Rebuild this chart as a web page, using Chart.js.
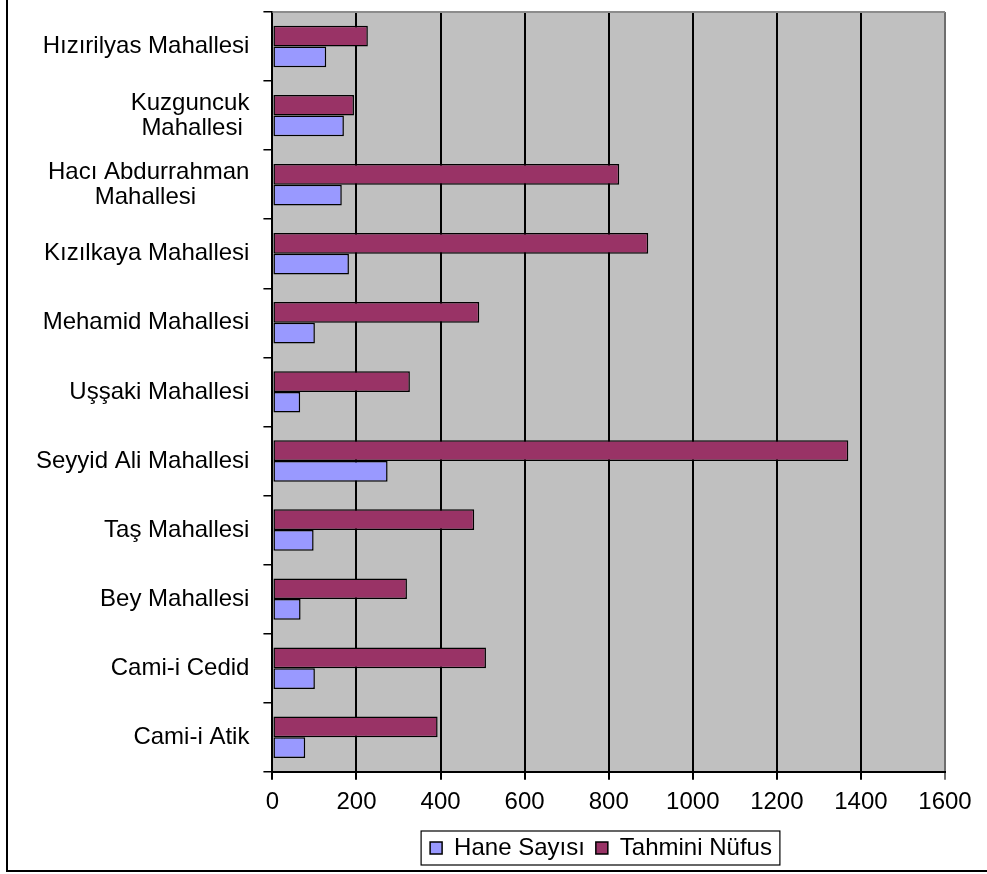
<!DOCTYPE html>
<html>
<head>
<meta charset="utf-8">
<script src="https://cdn.jsdelivr.net/npm/chart.js@4"></script>
<style>
  html, body { margin: 0; padding: 0; background: #fff; overflow: hidden; }
  #wrap { position: relative; width: 987px; height: 874px; }
  #frame { position: absolute; left: 6px; top: -8px; width: 1000px; height: 880px; border: 2px solid #000; box-sizing: border-box; }
  canvas { position: absolute; left: 0; top: 0; }
</style>
</head>
<body>
<div id="wrap">
  <div id="frame"></div>
  <canvas id="grafico" width="987" height="874"></canvas>
</div>
<script>
// ===== DATA =====
const mahalleler = [
  'Hızırilyas Mahallesi',
  ['Kuzguncuk', 'Mahallesi '],
  ['Hacı Abdurrahman', 'Mahallesi        '],
  'Kızılkaya Mahallesi',
  'Mehamid Mahallesi',
  'Uşşaki Mahallesi',
  'Seyyid Ali Mahallesi',
  'Taş Mahallesi',
  'Bey Mahallesi',
  'Cami-i Cedid',
  'Cami-i Atik'
];
const haneSayisi   = [128, 170, 165, 182, 101, 66, 274, 98, 67, 101, 78];
const tahminiNufus = [227, 194, 825, 894, 492, 327, 1370, 480, 320, 508, 393];
const xTicks = [0, 200, 400, 600, 800, 1000, 1200, 1400, 1600];

const FONT = { family: 'Arial, "Liberation Sans", sans-serif', size: 24, lineHeight: 1.05 };

// gray plot background + top border + legend frame
const plotBg = {
  id: 'plotBg',
  beforeDraw(chart) {
    const { ctx, chartArea: a } = chart;
    ctx.save();
    ctx.fillStyle = '#C0C0C0';
    ctx.fillRect(a.left, a.top, a.right - a.left, a.bottom - a.top);
    ctx.restore();
  },
  afterDraw(chart) {
    const { ctx, chartArea: a } = chart;
    ctx.save();
    ctx.strokeStyle = '#8c8c8c';
    ctx.lineWidth = 2;
    ctx.beginPath();
    ctx.moveTo(a.left, a.top);
    ctx.lineTo(a.right, a.top);
    ctx.stroke();
    const boxes = chart.legend.legendHitBoxes;
    if (boxes && boxes.length) {
      const l = boxes[0].left - 9;
      const last = boxes[boxes.length - 1];
      const r = last.left + last.width + 8;
      const t = boxes[0].top - 5;
      const b = boxes[0].top + boxes[0].height + 5;
      ctx.strokeStyle = '#000';
      ctx.lineWidth = 1.2;
      ctx.strokeRect(l, t, r - l, b - t);
    }
    ctx.restore();
  }
};

// centre the legend under the plot like the original
const legendShift = {
  id: 'legendShift',
  afterLayout(chart) {
    const lg = chart.legend;
    const center = 601;
    const half = (lg.right - lg.left) / 2;
    lg.left = center - half;
    lg.right = center + half;
  }
};

new Chart(document.getElementById('grafico'), {
  type: 'bar',
  data: {
    labels: mahalleler,
    datasets: [
      {
        label: 'Tahmini Nüfus',
        data: tahminiNufus,
        backgroundColor: '#993366',
        borderColor: '#000',
        borderWidth: 1.5,
        borderSkipped: false
      },
      {
        label: 'Hane Sayısı',
        data: haneSayisi,
        backgroundColor: '#9999FF',
        borderColor: '#000',
        borderWidth: 1.5,
        borderSkipped: false
      }
    ]
  },
  options: {
    indexAxis: 'y',
    responsive: false,
    animation: false,
    categoryPercentage: 0.6,
    barPercentage: 1.0,
    layout: { padding: { left: 22, right: 42, top: 12, bottom: 4 } },
    plugins: {
      tooltip: { enabled: false },
      legend: {
        position: 'bottom',
        reverse: true,
        labels: {
          font: FONT,
          color: '#000',
          boxWidth: 12,
          boxHeight: 12,
          padding: 11
        }
      }
    },
    scales: {
      x: {
        min: 0,
        max: 1600,
        afterBuildTicks(axis) { axis.ticks = xTicks.map(v => ({ value: v })); },
        ticks: { font: FONT, color: '#000', padding: 10, callback: v => String(v) },
        grid: {
          color: ctx => (ctx.tick && ctx.tick.value === 1600 ? '#6e6e6e' : '#000'),
          lineWidth: 2,
          tickLength: 8
        },
        border: { color: '#000', width: 2 }
      },
      y: {
        afterFit(scale) { scale.paddingTop = 0; scale.paddingBottom = 0; },
        ticks: { font: FONT, color: '#000', padding: 14 },
        grid: {
          offset: true,
          drawOnChartArea: false,
          color: '#000',
          lineWidth: 1.5,
          tickLength: 9
        },
        border: { color: '#000', width: 2 }
      }
    }
  },
  plugins: [plotBg, legendShift]
});
</script>
</body>
</html>
